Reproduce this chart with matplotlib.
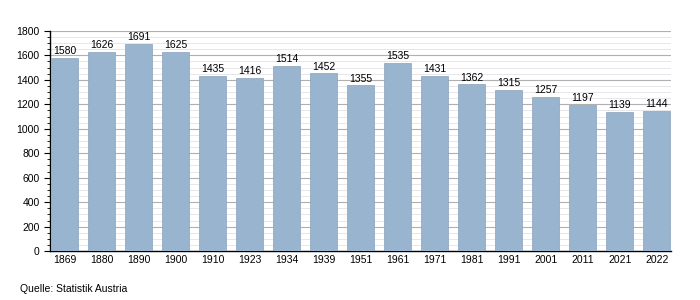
import matplotlib
matplotlib.use("Agg")
import matplotlib.pyplot as plt
from matplotlib.ticker import MultipleLocator

years = ["1869", "1880", "1890", "1900", "1910", "1923", "1934", "1939", "1951",
         "1961", "1971", "1981", "1991", "2001", "2011", "2021", "2022"]
population = [1580, 1626, 1691, 1625, 1435, 1416, 1514, 1452, 1355,
              1535, 1431, 1362, 1315, 1257, 1197, 1139, 1144]

plt.rcParams['font.family'] = ['Liberation Sans', 'DejaVu Sans']
fig = plt.figure(figsize=(7, 3), dpi=100)
ax = fig.add_axes([50 / 700, 0.163, 621 / 700, 0.734])

x = list(range(len(years)))
ax.bar(x, population, width=0.73, color="#99b4cf", edgecolor="#8aa2ba", linewidth=0.5, zorder=3)
for xi, v in zip(x, population):
    ax.text(xi, v + 15, str(v), ha="center", va="bottom", fontsize=7.5, color="black", zorder=4)

ax.set_xlim(-0.39, len(years) - 1 + 0.38)
ax.set_ylim(0, 1800)
ax.set_xticks(x)
ax.set_xticklabels(years, fontsize=7.5)
ax.yaxis.set_major_locator(MultipleLocator(200))
ax.yaxis.set_minor_locator(MultipleLocator(50))
ax.tick_params(axis='y', labelsize=7.5, length=4, width=0.8)
ax.tick_params(axis='y', which='minor', length=2, width=0.6)
ax.tick_params(axis='x', length=0, pad=3)
ax.grid(axis='y', which='major', color="#b0b0b0", linewidth=0.8, zorder=0)
ax.grid(axis='y', which='minor', color="#e2e2e8", linewidth=0.6, zorder=0)
for s in ["top", "right"]:
    ax.spines[s].set_visible(False)
ax.spines["left"].set_linewidth(1)
ax.spines["bottom"].set_linewidth(1)

fig.text(20 / 700, 0.02, "Quelle: Statistik Austria", fontsize=7.5, ha="left", va="bottom")

fig.savefig("out.png", dpi=100)
